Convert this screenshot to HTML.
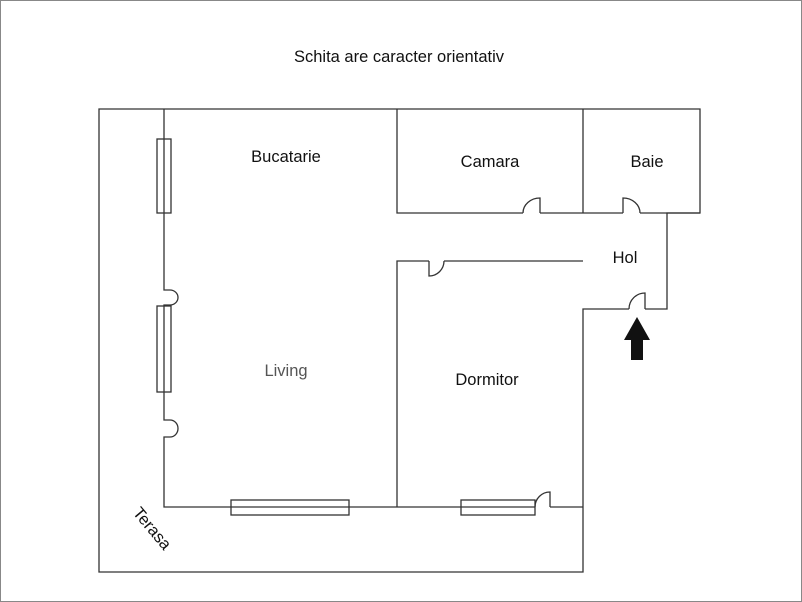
<!DOCTYPE html>
<html><head><style>
html,body{margin:0;padding:0;background:#fff;}
</style></head><body>
<svg width="802" height="602" xmlns="http://www.w3.org/2000/svg" style="display:block">
<rect x="0.5" y="0.5" width="801" height="601" fill="#fff" stroke="#888" stroke-width="1"/>
<g fill="none" stroke="#333" stroke-width="1.3">
<path d="M583 507 V572 H99 V109 H700 V213 H667 V309 H645 M629 309 H583 V507"/>
<path d="M164 109 V290 H170 A8 7.5 0 0 1 170 305 H164 V420 H170 A8 8.5 0 0 1 170 437 H164 V507 H535"/>
<path d="M550 507 H583"/>
<path d="M550 507 V492 A15 15 0 0 0 535 507"/>
<path d="M397 507 V261 H429 M444 261 H583"/>
<path d="M429 261 V276 A15 15 0 0 0 444 261"/>
<path d="M397 109 V213 H523 M540 213 H623 M640 213 H700"/>
<path d="M583 109 V213"/>
<path d="M540 213 V198 A17 15 0 0 0 523 213"/>
<path d="M623 213 V198 A17 15 0 0 1 640 213"/>
<path d="M645 309 V293 A16 16 0 0 0 629 309"/>
<rect x="157" y="139" width="14" height="74" fill="#fff"/>
<line x1="164" y1="139" x2="164" y2="213"/>
<rect x="157" y="306" width="14" height="86" fill="#fff"/>
<line x1="164" y1="306" x2="164" y2="392"/>
<rect x="231" y="500" width="118" height="15" fill="#fff"/>
<line x1="231" y1="507" x2="349" y2="507"/>
<rect x="461" y="500" width="74" height="15" fill="#fff"/>
<line x1="461" y1="507" x2="535" y2="507"/>
</g>
<path d="M637 317 L650 340 L643 340 L643 360 L631 360 L631 340 L624 340 Z" fill="#111"/>
<g font-family="Liberation Sans, sans-serif" font-size="16.5" fill="#111" text-anchor="middle">
<text x="399" y="62">Schita are caracter orientativ</text>
<text x="286" y="162">Bucatarie</text>
<text x="490" y="167">Camara</text>
<text x="647" y="167">Baie</text>
<text x="625" y="263">Hol</text>
<text x="286" y="376" fill="#555">Living</text>
<text x="487" y="385">Dormitor</text>
<text x="0" y="0" transform="translate(148,532) rotate(50)">Terasa</text>
</g>
</svg>
</body></html>
